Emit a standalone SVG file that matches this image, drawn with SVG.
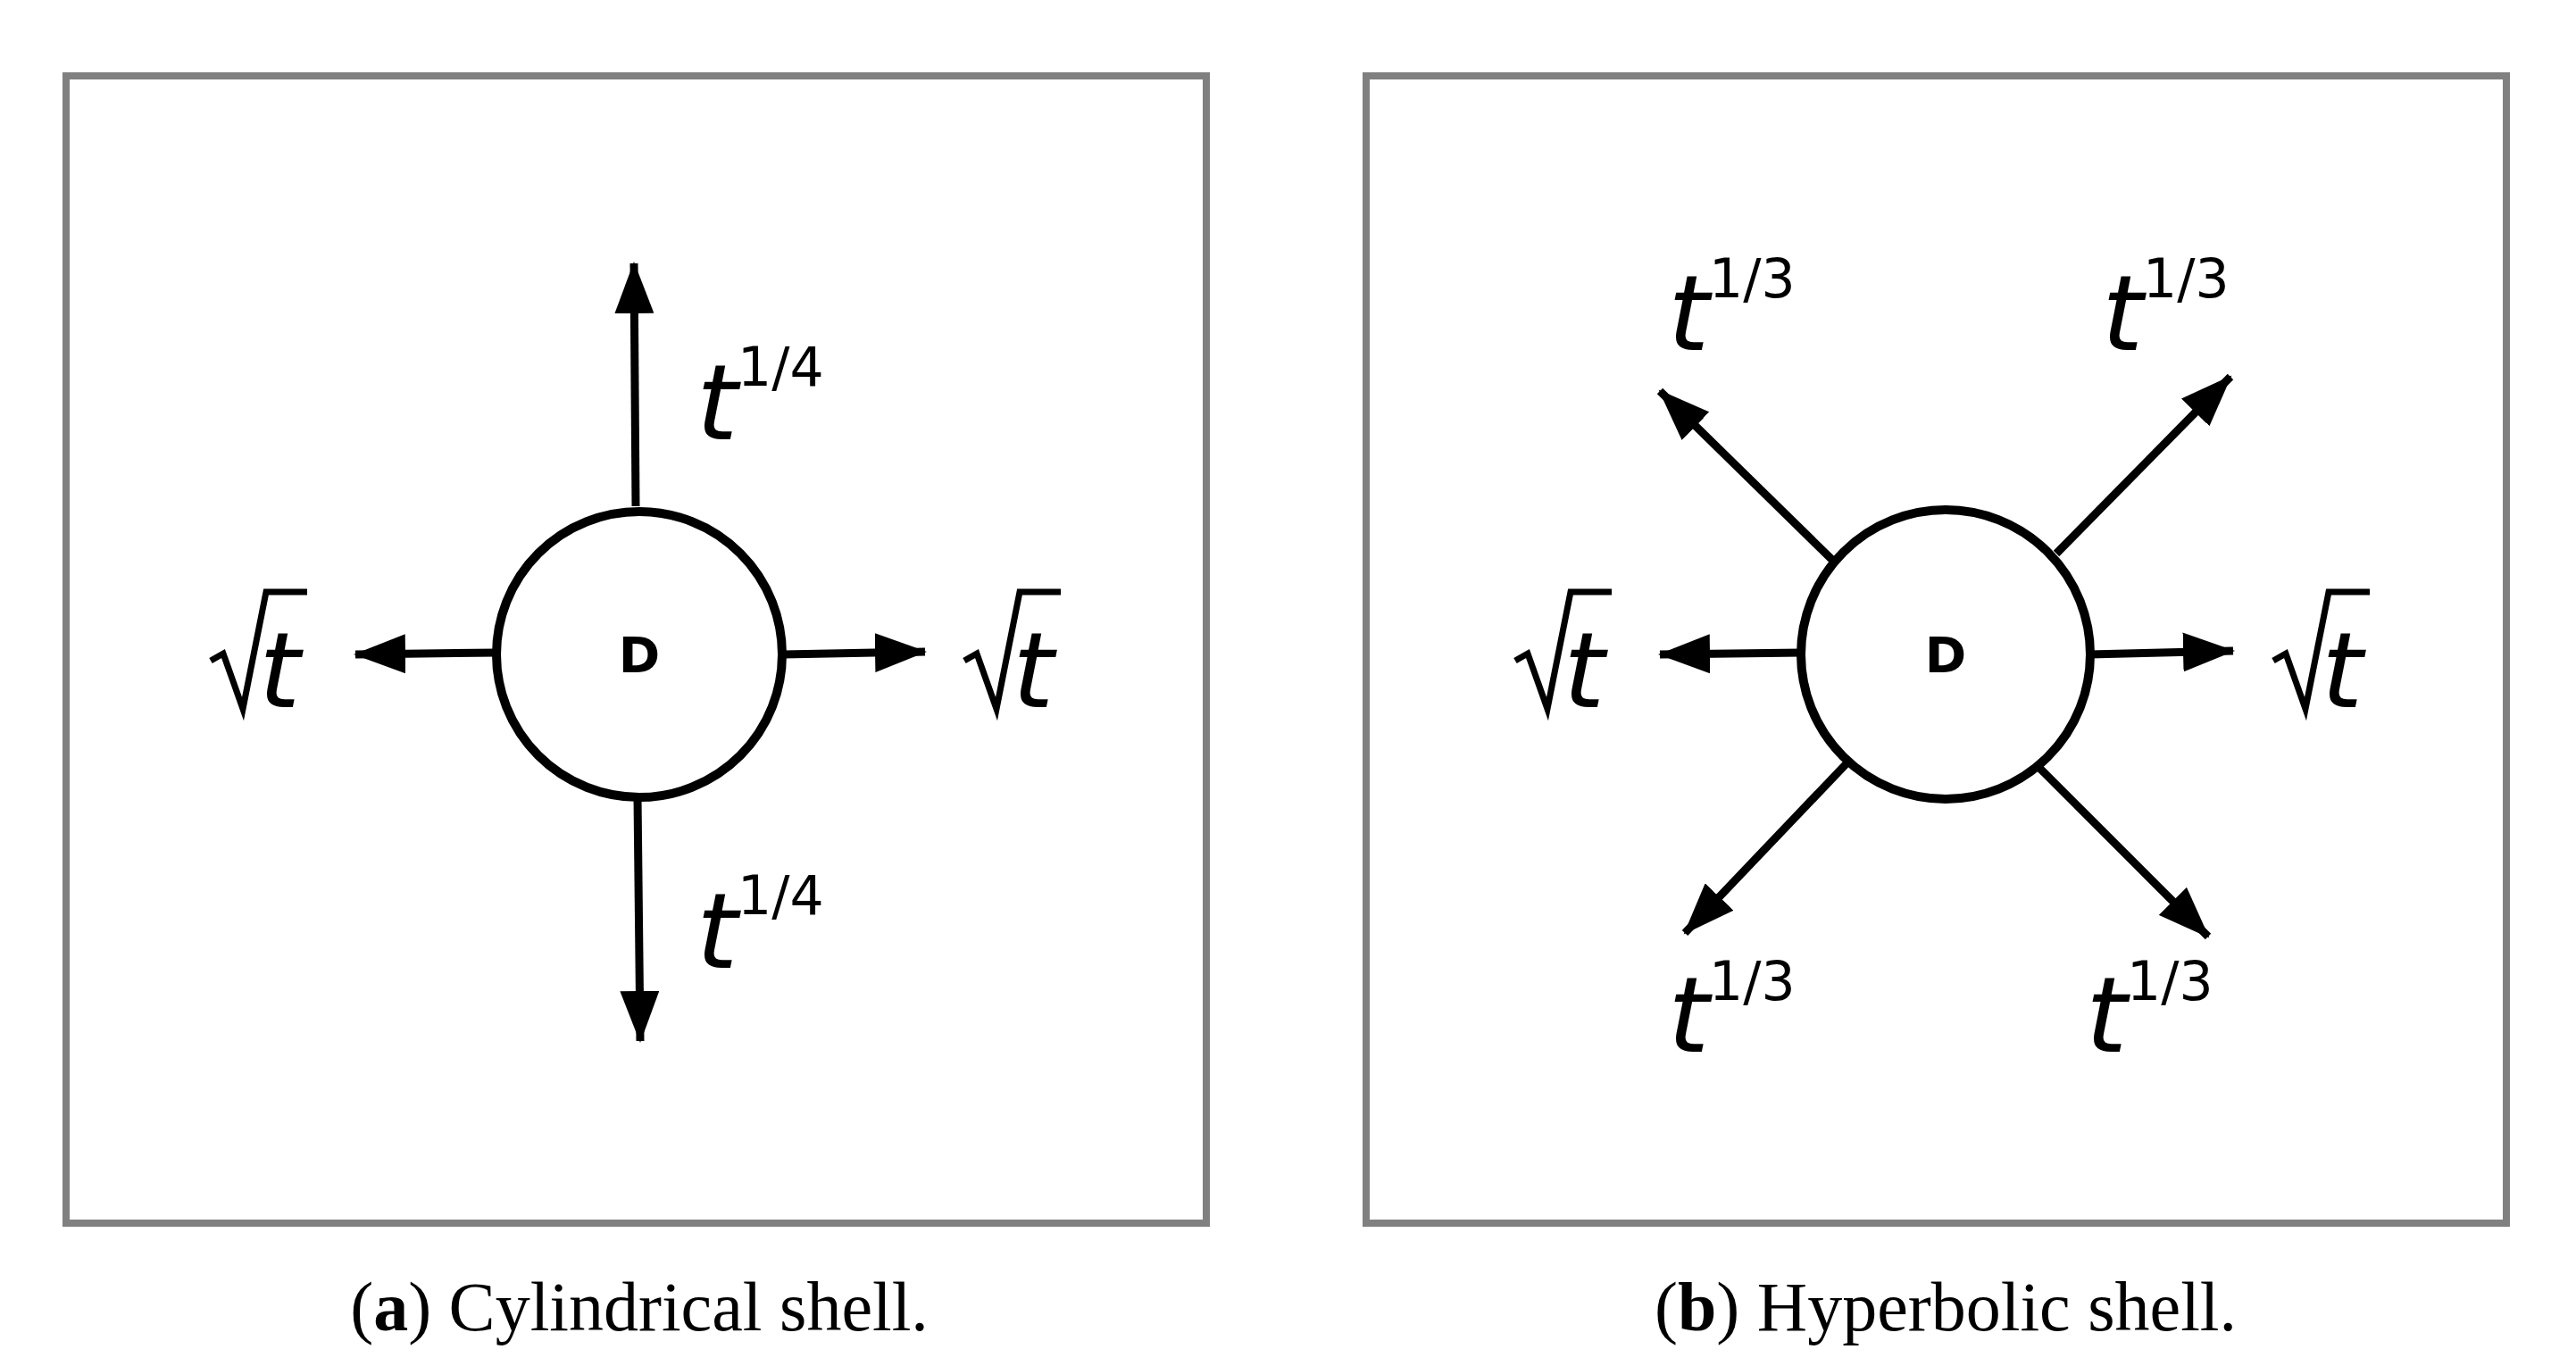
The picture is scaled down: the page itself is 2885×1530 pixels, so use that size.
<svg xmlns="http://www.w3.org/2000/svg" width="2885" height="1530" viewBox="0 0 2885 1530">
<style>
.box{fill:#fff;stroke:#808080;stroke-width:8}
.nd{fill:#fff;stroke:#000;stroke-width:10}
.ar{stroke:#000;stroke-width:9;fill:none;marker-end:url(#ah)}
.t{font-family:"DejaVu Sans",sans-serif;font-style:italic;font-size:118px}
.s{font-family:"DejaVu Sans",sans-serif;font-size:60px}
.rad{fill:none;stroke:#000;stroke-width:7}
.D{font-family:"DejaVu Sans",sans-serif;font-weight:bold;font-size:56px;text-anchor:middle}
.cap{font-family:"Liberation Serif",serif;font-size:78px;text-anchor:middle}
</style>
<defs>
<marker id="ah" markerUnits="userSpaceOnUse" markerWidth="60" markerHeight="44" refX="56" refY="22" orient="auto"><path d="M0,0 L58,22 L0,44 Z" fill="#000"/></marker>
<g id="sq"><path class="rad" d="M0,80 L14,72 L36,134 L62,3 L108,3"/><text class="t" x="54" y="132">t</text></g>
</defs>
<rect class="box" x="74" y="85" width="1277" height="1285"/>
<rect class="box" x="1530" y="85" width="1277" height="1285"/>
<g id="connectors">
<line class="ar" x1="712" y1="567" x2="710" y2="295"/>
<line class="ar" x1="714" y1="893" x2="717" y2="1166"/>
<line class="ar" x1="557" y1="731" x2="398" y2="733"/>
<line class="ar" x1="877" y1="733" x2="1036" y2="730"/>
<line class="ar" x1="2054" y1="629" x2="1859" y2="438"/>
<line class="ar" x1="2303" y1="620" x2="2498" y2="422"/>
<line class="ar" x1="2072" y1="851" x2="1887" y2="1045"/>
<line class="ar" x1="2279" y1="855" x2="2473" y2="1049"/>
<line class="ar" x1="2018" y1="731" x2="1859" y2="733"/>
<line class="ar" x1="2340" y1="733" x2="2501" y2="729"/>
</g>
<g id="nodeA"><circle class="nd" cx="716" cy="733" r="160"/><text class="D" x="716" y="753">D</text></g>
<g id="nodeB"><circle class="nd" cx="2179" cy="733" r="162"/><text class="D" x="2179" y="753">D</text></g>
<g id="labelsA">
<text class="t" x="780" y="492">t</text><text class="s" x="826" y="432">1/4</text>
<text class="t" x="780" y="1084">t</text><text class="s" x="826" y="1024">1/4</text>
<use href="#sq" x="236" y="660"/><use href="#sq" x="1080" y="660"/>
</g>
<g id="labelsB">
<text class="t" x="1868" y="392">t</text><text class="s" x="1914" y="333">1/3</text>
<text class="t" x="2354" y="392">t</text><text class="s" x="2400" y="333">1/3</text>
<text class="t" x="1868" y="1178">t</text><text class="s" x="1914" y="1120">1/3</text>
<text class="t" x="2336" y="1178">t</text><text class="s" x="2382" y="1120">1/3</text>
<use href="#sq" x="1697" y="660"/><use href="#sq" x="2546" y="660"/>
</g>
<text class="cap" x="716" y="1490">(<tspan font-weight="bold">a</tspan>) Cylindrical shell.</text>
<text class="cap" x="2179" y="1490">(<tspan font-weight="bold">b</tspan>) Hyperbolic shell.</text>
</svg>
